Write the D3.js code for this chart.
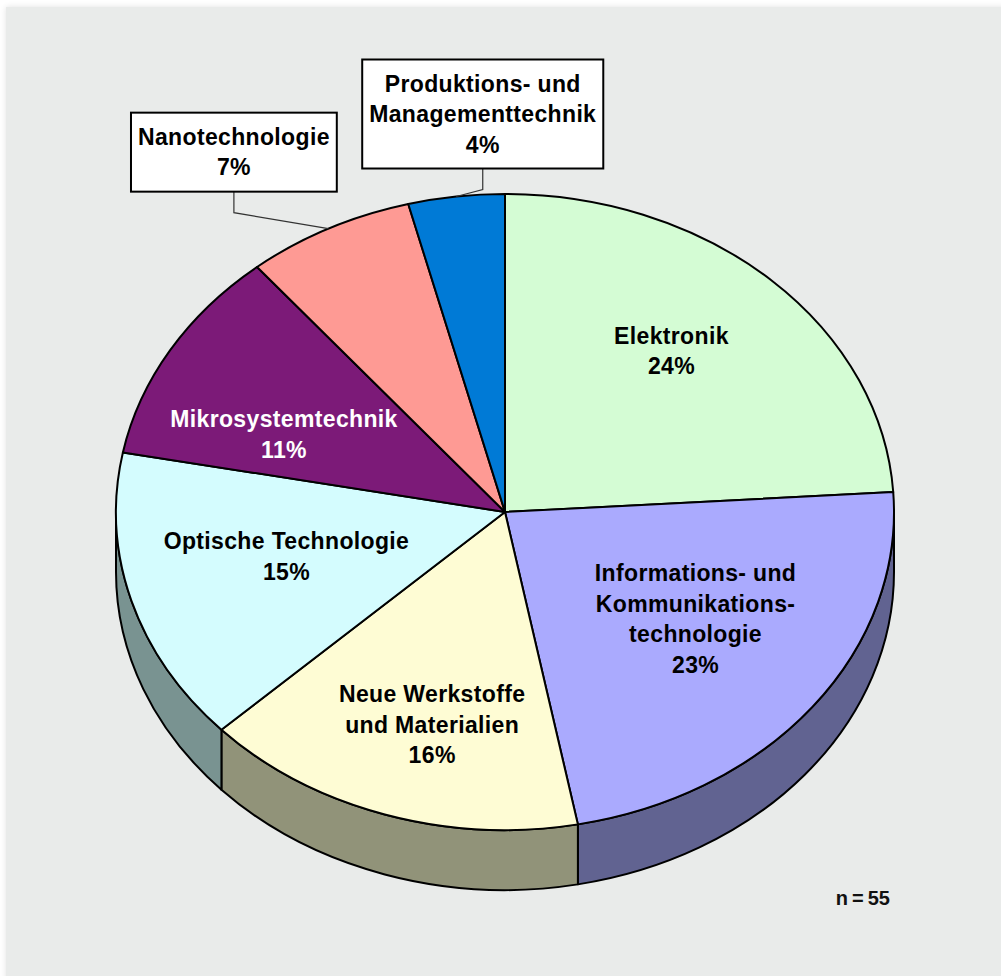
<!DOCTYPE html>
<html>
<head>
<meta charset="utf-8">
<script src="https://cdn.jsdelivr.net/npm/d3@7"></script>
<style>
  html, body { margin: 0; padding: 0; background: #ffffff; }
  svg { display: block; }
  text { font-family: "Liberation Sans", Arial, Helvetica, sans-serif; font-weight: bold; }
</style>
</head>
<body>
<svg id="chart" width="1001" height="976"></svg>
<script>
// Anteile der Technologiefelder (in %), im Uhrzeigersinn ab 12 Uhr
const categories = [
  "Elektronik",
  "Informations- und Kommunikationstechnologie",
  "Neue Werkstoffe und Materialien",
  "Optische Technologie",
  "Mikrosystemtechnik",
  "Nanotechnologie",
  "Produktions- und Managementtechnik"
];
const shares = [24, 23, 16, 15, 11, 7, 4];
const labelLines = [
  ["Elektronik"],
  ["Informations- und", "Kommunikations-", "technologie"],
  ["Neue Werkstoffe", "und Materialien"],
  ["Optische Technologie"],
  ["Mikrosystemtechnik"],
  ["Nanotechnologie"],
  ["Produktions- und", "Managementtechnik"]
];
const sampleNote = "n\u2009=\u200955";

// Darstellung
const topColors = ["#d4fcd4", "#aaaafe", "#fefcd4", "#d4fcfe", "#7c1a78", "#fe9a94", "#007ad6"];
const textColors = ["#000", "#000", "#000", "#000", "#fff", "#000", "#000"];
// Lage der Beschriftungen im Segment (Anteil der Halbachsen x / y)
const labelFactors = [[0.625, 0.695], [0.62, 0.55], [0.606, 0.704], [0.585, 0.5], [0.66, 0.48], null, null];
// Beschriftungen ausserhalb: Versatz des Kastens vom Randpunkt
const calloutOffsets = [null, null, null, null, null, [-94.5, -76.5], [26.5, -82.5]];

const W = 1001, H = 976;
const cx = 505, cy = 512, rx = 389, ry = 318, depth = 60;
const lineH = 30.5;

const svg = d3.select("#chart");

// Hintergrundfläche mit leichtem Schatten
const defs = svg.append("defs");
const f = defs.append("filter").attr("id", "soft").attr("x", "-5%").attr("y", "-5%").attr("width", "110%").attr("height", "110%");
f.append("feGaussianBlur").attr("in", "SourceAlpha").attr("stdDeviation", 3);
f.append("feComponentTransfer").append("feFuncA").attr("type", "linear").attr("slope", 0.12);
const m = f.append("feMerge");
m.append("feMergeNode");
m.append("feMergeNode").attr("in", "SourceGraphic");

svg.append("rect").attr("x", 6).attr("y", 7).attr("width", W).attr("height", H)
  .attr("fill", "#e9ebea").attr("filter", "url(#soft)");

const arcs = d3.pie().sort(null).value(d => d)(shares);

function pt(a, dy = 0) {
  return [cx + rx * Math.sin(a), cy - ry * Math.cos(a) + dy];
}
function sideColor(c) {
  const r = d3.rgb(c);
  return d3.rgb(r.r * 0.57, r.g * 0.585, r.b * 0.57).toString();
}

// Seitenwände (nur vordere Hälfte sichtbar)
const gSide = svg.append("g");
arcs.forEach((d, i) => {
  const s = Math.max(d.startAngle, Math.PI / 2);
  const e = Math.min(d.endAngle, 3 * Math.PI / 2);
  if (s >= e) return;
  const p0 = pt(s), p1 = pt(e), q1 = pt(e, depth), q0 = pt(s, depth);
  const path = `M${p0} A${rx},${ry} 0 0 1 ${p1} L${q1} A${rx},${ry} 0 0 0 ${q0} Z`;
  gSide.append("path").attr("d", path)
    .attr("fill", sideColor(topColors[i]))
    .attr("stroke", "#000").attr("stroke-width", 2).attr("stroke-linejoin", "round");
});

// Deckfläche
const gTop = svg.append("g");
arcs.forEach((d, i) => {
  const p0 = pt(d.startAngle), p1 = pt(d.endAngle);
  const large = (d.endAngle - d.startAngle) > Math.PI ? 1 : 0;
  const path = `M${cx},${cy} L${p0} A${rx},${ry} 0 ${large} 1 ${p1} Z`;
  gTop.append("path").attr("d", path)
    .attr("fill", topColors[i])
    .attr("stroke", "#000").attr("stroke-width", 2).attr("stroke-linejoin", "round");
});

function drawLines(g, lines, x, y, color) {
  const t = g.append("text")
    .attr("text-anchor", "middle")
    .attr("font-size", 23)
    .attr("letter-spacing", 0.35)
    .attr("fill", color);
  lines.forEach((ln, k) => {
    t.append("tspan")
      .attr("x", x)
      .attr("y", y + (k - (lines.length - 1) / 2) * lineH)
      .attr("dy", "0.35em")
      .text(ln);
  });
  return t;
}

// Beschriftungen
const gLab = svg.append("g");
arcs.forEach((d, i) => {
  const mid = (d.startAngle + d.endAngle) / 2;
  const lines = labelLines[i].concat([shares[i] + "%"]);
  if (labelFactors[i]) {
    const [fx, fy] = labelFactors[i];
    const x = cx + rx * fx * Math.sin(mid);
    const y = cy - ry * fy * Math.cos(mid);
    drawLines(gLab, lines, x, y, textColors[i]);
  } else {
    const anchor = pt(mid);
    const [ox, oy] = calloutOffsets[i];
    const bx = anchor[0] + ox, by = anchor[1] + oy;
    const g = gLab.append("g");
    const t = drawLines(g, lines, bx, by, textColors[i]);
    const bb = t.node().getBBox();
    const bw = bb.width + 14;
    const bh = lines.length * 30 + 19;
    const bottom = by + bh / 2;
    g.insert("rect", "text")
      .attr("x", bx - bw / 2).attr("y", by - bh / 2)
      .attr("width", bw).attr("height", bh)
      .attr("fill", "#fff").attr("stroke", "#000").attr("stroke-width", 2);
    gLab.insert("polyline", "g")
      .attr("points", `${anchor} ${bx},${bottom + 21} ${bx},${bottom}`)
      .attr("fill", "none").attr("stroke", "#333").attr("stroke-width", 1.2);
  }
});

// Stichprobengröße
svg.append("text")
  .attr("x", 890).attr("y", 898).attr("dy", "0.35em")
  .attr("text-anchor", "end")
  .attr("font-size", 20)
  .attr("fill", "#111")
  .text(sampleNote);
</script>
</body>
</html>
